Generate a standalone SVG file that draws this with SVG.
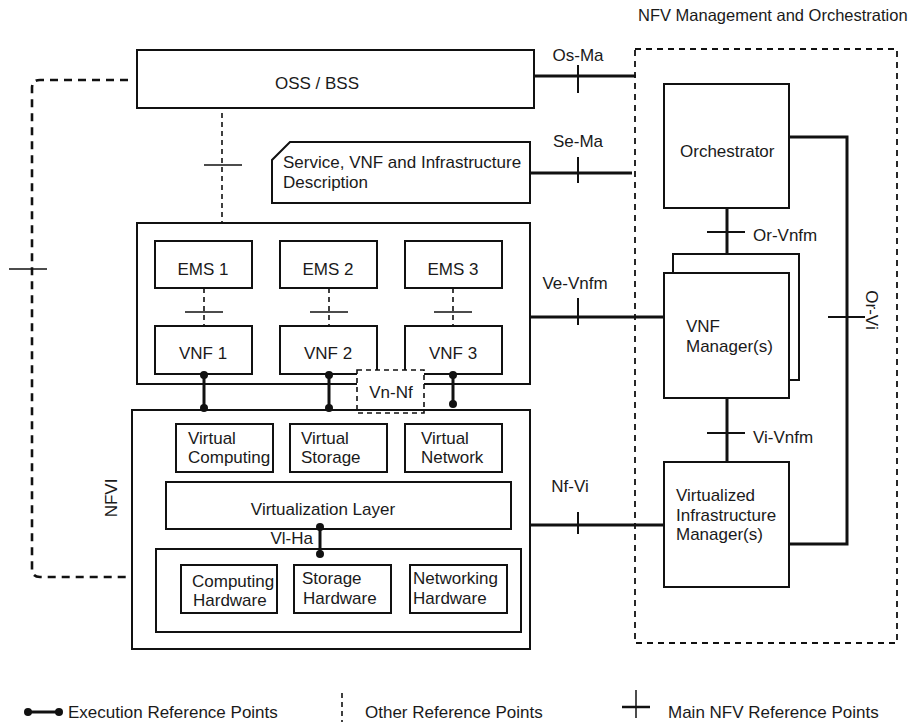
<svg xmlns="http://www.w3.org/2000/svg" width="920" height="722" viewBox="0 0 920 722">
<style>
text{font-family:"Liberation Sans",Arial,sans-serif;font-size:17px;fill:#1a1a1a}
.box{fill:#fff;stroke:#111;stroke-width:2}
.thick{fill:none;stroke:#111;stroke-width:3}
.tick{fill:none;stroke:#111;stroke-width:2}
.thin{fill:none;stroke:#111;stroke-width:1.5}
.dash{fill:none;stroke:#111;stroke-width:1.6;stroke-dasharray:5 4}
.bigdash{fill:none;stroke:#111;stroke-width:2.6;stroke-dasharray:8 6}
.mano{fill:none;stroke:#111;stroke-width:1.8;stroke-dasharray:6 5}
.dot{fill:#111}
.c{text-anchor:middle}
</style>
<rect width="920" height="722" fill="#fff"/>

<g id="mano">
<rect class="mano" x="635" y="49" width="262" height="594"/>
<text x="638" y="21" style="font-size:16.5px">NFV Management and Orchestration</text>
</g>

<g id="connectors">
<path class="bigdash" d="M128,80 H40 Q32,80 32,88 V569 Q32,577 40,577 H160"/>
<line class="thin" x1="9" y1="269" x2="47" y2="269"/>
<line class="dash" x1="222" y1="113" x2="222" y2="222"/>
<line class="thin" x1="204" y1="165" x2="242" y2="165"/>
<line class="thick" x1="534" y1="76" x2="636" y2="76"/>
<line class="tick" x1="578" y1="65" x2="578" y2="93"/>
<text class="c" x="578" y="61">Os-Ma</text>
<line class="thick" x1="530" y1="173" x2="632" y2="173"/>
<line class="tick" x1="578" y1="157" x2="578" y2="183"/>
<text class="c" x="578" y="147">Se-Ma</text>
<line class="thick" x1="530" y1="317" x2="665" y2="317"/>
<line class="tick" x1="578" y1="298" x2="578" y2="325"/>
<text class="c" x="575" y="289">Ve-Vnfm</text>
<line class="thick" x1="530" y1="525" x2="665" y2="525"/>
<line class="tick" x1="578" y1="512" x2="578" y2="534"/>
<text class="c" x="570" y="492">Nf-Vi</text>
<path class="thick" d="M789,137 H847 V544 H789"/>
<line class="tick" x1="828" y1="317" x2="865" y2="317"/>
<text class="c" transform="translate(866,310) rotate(90)">Or-Vi</text>
<line class="thick" x1="727" y1="208" x2="727" y2="273"/>
<line class="tick" x1="707" y1="232" x2="745" y2="232"/>
<text x="753" y="241">Or-Vnfm</text>
<line class="thick" x1="727" y1="398" x2="727" y2="462"/>
<line class="tick" x1="707" y1="433" x2="745" y2="433"/>
<text x="753" y="443">Vi-Vnfm</text>
</g>

<g id="oss-bss">
<rect class="box" x="137" y="50" width="397" height="58"/>
<text class="c" x="317" y="89">OSS / BSS</text>
</g>

<g id="description">
<path class="box" d="M290,142 H530 V203 H272 V160 Z"/>
<text x="283" y="168">Service, VNF and Infrastructure</text>
<text x="283" y="188">Description</text>
</g>

<g id="orchestrator">
<rect class="box" x="664" y="84" width="125" height="124"/>
<text x="680" y="157">Orchestrator</text>
</g>

<g id="vnf-manager">
<rect class="box" x="673" y="254" width="126" height="126"/>
<rect class="box" x="664" y="273" width="125" height="125"/>
<text x="686" y="332">VNF</text>
<text x="686" y="352">Manager(s)</text>
</g>

<g id="vim">
<rect class="box" x="664" y="462" width="125" height="125"/>
<text x="676" y="501">Virtualized</text>
<text x="676" y="521">Infrastructure</text>
<text x="676" y="540">Manager(s)</text>
</g>

<g id="vnf-domain">
<rect class="box" x="137" y="223" width="393" height="161"/>
</g>

<g id="ems1"><rect class="box" x="155" y="241" width="97" height="47"/><text class="c" x="203" y="275">EMS 1</text></g>
<g id="ems2"><rect class="box" x="280" y="241" width="97" height="47"/><text class="c" x="328" y="275">EMS 2</text></g>
<g id="ems3"><rect class="box" x="405" y="241" width="97" height="47"/><text class="c" x="453" y="275">EMS 3</text></g>
<g id="vnf1"><rect class="box" x="155" y="326" width="97" height="48"/><text class="c" x="203" y="359">VNF 1</text></g>
<g id="vnf2"><rect class="box" x="280" y="326" width="97" height="48"/><text class="c" x="328" y="359">VNF 2</text></g>
<g id="vnf3"><rect class="box" x="405" y="326" width="97" height="48"/><text class="c" x="453" y="359">VNF 3</text></g>

<g id="ems-vnf-links">
<line class="dash" x1="204" y1="288" x2="204" y2="326"/>
<line class="thin" x1="185" y1="312" x2="223" y2="312"/>
<line class="dash" x1="329" y1="288" x2="329" y2="326"/>
<line class="thin" x1="310" y1="312" x2="348" y2="312"/>
<line class="dash" x1="453" y1="288" x2="453" y2="326"/>
<line class="thin" x1="434" y1="312" x2="472" y2="312"/>
</g>

<g id="nfvi">
<rect class="box" x="132" y="410" width="398" height="239"/>
<text class="c" transform="translate(117,498) rotate(-90)">NFVI</text>
</g>

<g id="execution-links">
<line class="thick" x1="204" y1="375" x2="204" y2="408"/>
<circle class="dot" cx="204" cy="375" r="4"/><circle class="dot" cx="204" cy="408" r="4"/>
<line class="thick" x1="329" y1="375" x2="329" y2="408"/>
<circle class="dot" cx="329" cy="375" r="4"/><circle class="dot" cx="329" cy="408" r="4"/>
<line class="thick" x1="453" y1="375" x2="453" y2="404"/>
<circle class="dot" cx="453" cy="375" r="4"/><circle class="dot" cx="453" cy="404" r="4"/>
</g>

<g id="vn-nf">
<rect x="357" y="370" width="67" height="43" fill="#fff" stroke="#111" stroke-width="1.6" stroke-dasharray="5 4"/>
<line x1="356" y1="410" x2="426" y2="410" stroke="#111" stroke-width="2"/>
<text class="c" x="391" y="398">Vn-Nf</text>
</g>

<g id="virtual-computing"><rect class="box" x="176" y="424" width="97" height="48"/><text x="188" y="444">Virtual</text><text x="188" y="463">Computing</text></g>
<g id="virtual-storage"><rect class="box" x="290" y="424" width="97" height="48"/><text x="301" y="444">Virtual</text><text x="301" y="463">Storage</text></g>
<g id="virtual-network"><rect class="box" x="405" y="424" width="97" height="48"/><text x="421" y="444">Virtual</text><text x="421" y="463">Network</text></g>

<g id="virtualization-layer">
<rect class="box" x="166" y="482" width="345" height="47"/>
<text class="c" x="323" y="515">Virtualization Layer</text>
</g>

<g id="vl-ha">
<line class="thick" x1="320" y1="527" x2="320" y2="554"/>
<circle class="dot" cx="320" cy="527" r="4"/><circle class="dot" cx="320" cy="554" r="4"/>
<text x="313" y="544" text-anchor="end">Vl-Ha</text>
</g>

<g id="hardware">
<rect x="156" y="549" width="365" height="83" fill="none" stroke="#111" stroke-width="2"/>
</g>
<g id="computing-hw"><rect class="box" x="181" y="565" width="96" height="48"/><text x="192" y="587">Computing</text><text x="193" y="606">Hardware</text></g>
<g id="storage-hw"><rect class="box" x="294" y="565" width="97" height="48"/><text x="302" y="584">Storage</text><text x="303" y="604">Hardware</text></g>
<g id="networking-hw"><rect class="box" x="410" y="565" width="97" height="48"/><text x="413" y="584">Networking</text><text x="413" y="604">Hardware</text></g>

<g id="legend">
<line class="thick" x1="28" y1="712" x2="59" y2="712"/>
<circle class="dot" cx="28" cy="712" r="4"/><circle class="dot" cx="59" cy="712" r="4"/>
<text x="68" y="718">Execution Reference Points</text>
<line class="dash" x1="342" y1="693" x2="342" y2="722"/>
<text x="365" y="718">Other Reference Points</text>
<line x1="622" y1="707" x2="650" y2="707" stroke="#111" stroke-width="2.5"/>
<line class="thin" x1="636" y1="690" x2="636" y2="718"/>
<text x="668" y="718">Main NFV Reference Points</text>
</g>
</svg>
